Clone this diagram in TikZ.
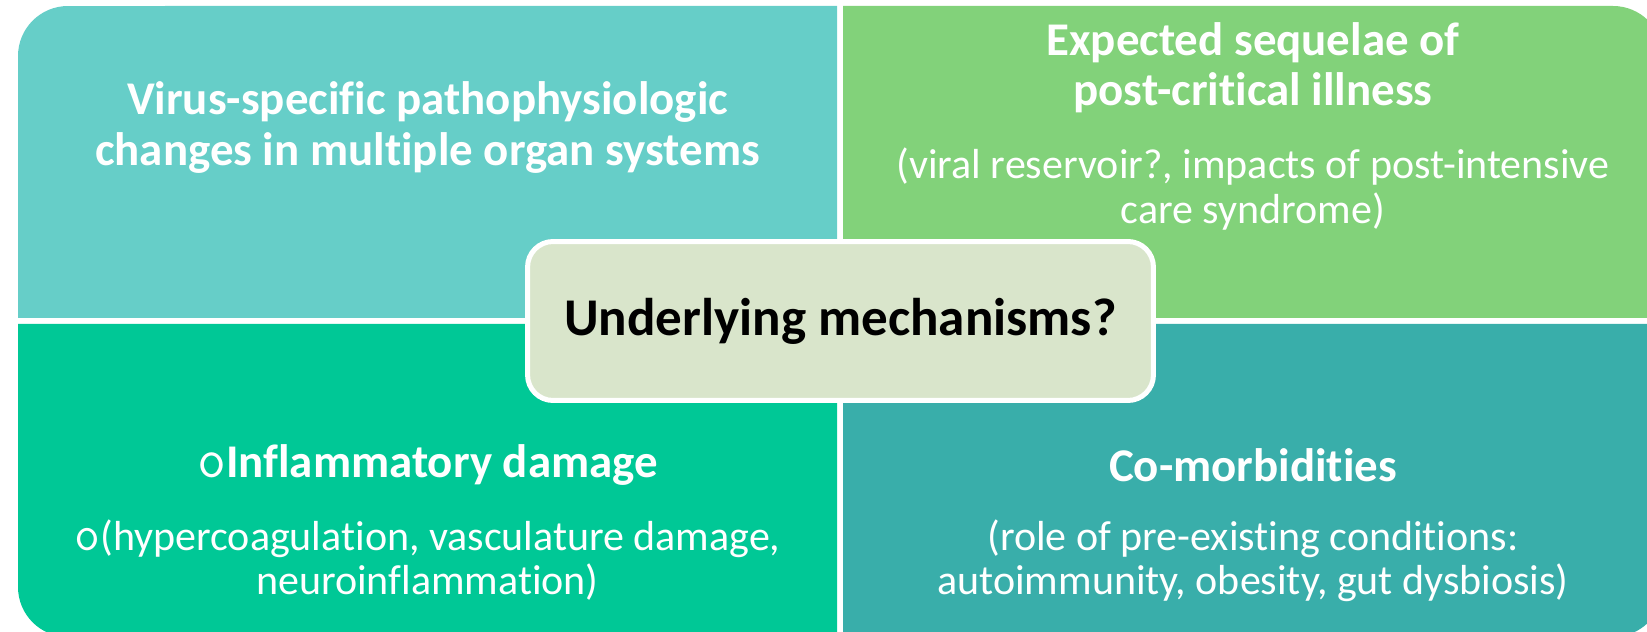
\documentclass[tikz,border=0pt]{standalone}
\usepackage{fontspec}
\setmainfont{Carlito}[Ligatures=NoCommon]
\usepackage{xcolor}

\definecolor{quadTL}{HTML}{66CEC8}
\definecolor{quadTR}{HTML}{82D27A}
\definecolor{quadBL}{HTML}{00C896}
\definecolor{quadBR}{HTML}{39AEAA}
\definecolor{hubfill}{HTML}{D9E5CB}

\newcommand{\bul}{\scalebox{1.2}{\ttfamily\mdseries o}}

\begin{document}
\begin{tikzpicture}[
    x=0.02cm, y=0.02cm,
    title/.style={text=white, align=center, inner sep=0pt, font=\bfseries\fontsize{26.7}{28.5}\selectfont},
    body/.style={text=white, align=center, inner sep=0pt, font=\fontsize{23.9}{25.3}\selectfont},
    hub/.style={draw=white, line width=2.85pt, fill=hubfill, rounded corners=0.51cm,
        minimum width=12.52cm, minimum height=3.18cm, inner sep=0pt,
        font=\bfseries\fontsize{30.2}{34}\selectfont}
]
    \useasboundingbox (0,0) rectangle (1647,632);
    \clip (0,0) rectangle (1647,632);

    % the four quadrants
    \fill[quadTL] (837,314) -- (18,314) -- (18,576) arc[start angle=180, end angle=90, radius=1cm] -- (837,626) -- cycle;
    \fill[quadTR] (843,314) -- (843,626) -- (1613,626) arc[start angle=90, end angle=0, radius=1cm] -- (1663,314) -- cycle;
    \fill[quadBL] (837,308) -- (18,308) -- (18,45) arc[start angle=180, end angle=270, radius=1cm] -- (837,-5) -- cycle;
    \fill[quadBR] (843,308) -- (1663,308) -- (1663,45) arc[start angle=0, end angle=-90, radius=1cm] -- (843,-5) -- cycle;

    \node[title] (tl) at (427.5,504.5) {Virus-specific pathophysiologic\\changes in multiple organ systems};

    \node[title] (trt) at (1253,564.5) {Expected sequelae of\\post-critical illness};
    \node[body] (trb) at (1253,443) {(viral reservoir?, impacts of post-intensive\\care syndrome)};

    \node[title] (blt) at (427.5,167) {\bul Inflammatory damage};
    \node[body] (blb) at (427.5,72) {\bul(hypercoagulation, vasculature damage,\\neuroinflammation)};

    \node[title] (brt) at (1253,167) {Co-morbidities};
    \node[body] (brb) at (1253,71) {(role of pre-existing conditions:\\autoimmunity, obesity, gut dysbiosis)};

    % centre box
    \node[hub] (hub) at (840.5,311) {Underlying mechanisms?};
\end{tikzpicture}
\end{document}
